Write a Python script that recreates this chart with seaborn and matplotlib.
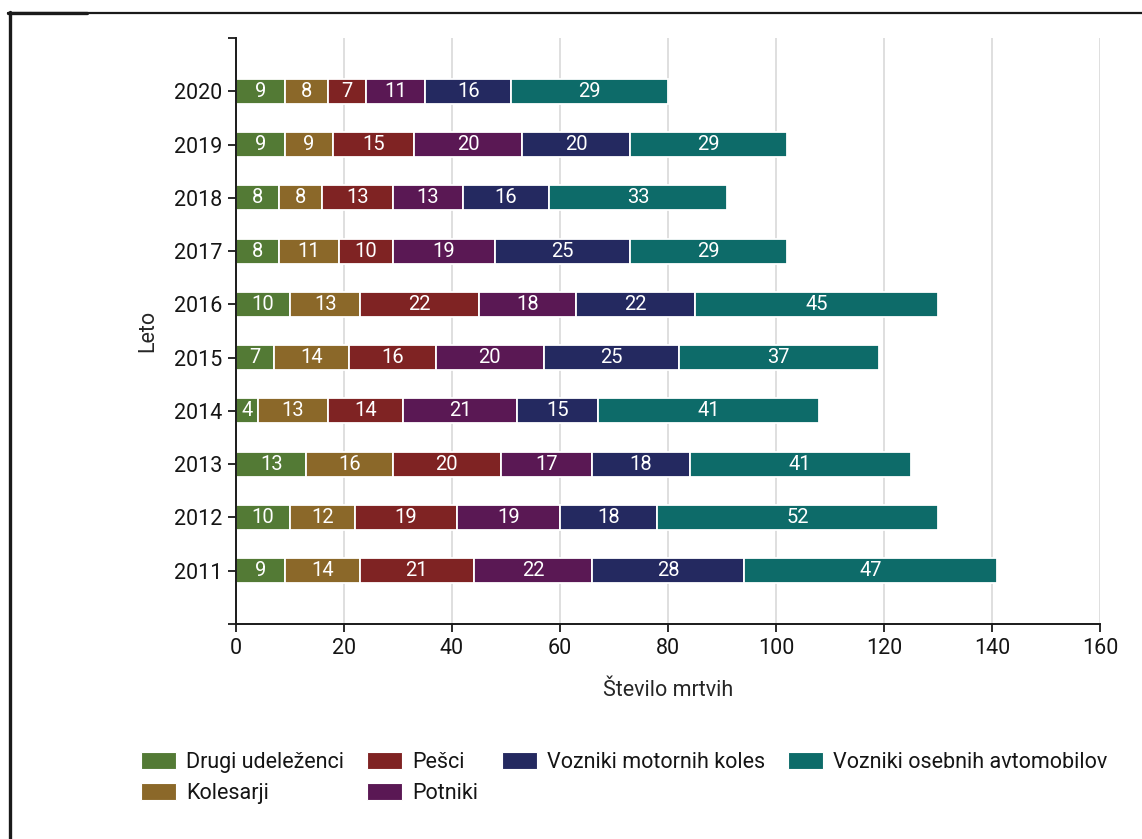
import numpy as np
import pandas as pd
import seaborn as sns
import matplotlib.pyplot as plt
from matplotlib.patches import Patch
from matplotlib.lines import Line2D

#### Data ####
years = ['2020', '2019', '2018', '2017', '2016', '2015', '2014', '2013', '2012', '2011']
groups = ['Drugi udeleženci', 'Kolesarji', 'Pešci', 'Potniki',
          'Vozniki motornih koles', 'Vozniki osebnih avtomobilov']
drugi = [9, 9, 8, 8, 10, 7, 4, 13, 10, 9]
kolesarji = [8, 9, 8, 11, 13, 14, 13, 16, 12, 14]
pesci = [7, 15, 13, 10, 22, 16, 14, 20, 19, 21]
potniki = [11, 20, 13, 19, 18, 20, 21, 17, 19, 22]
motoristi = [16, 20, 16, 25, 22, 25, 15, 18, 18, 28]
avtomobili = [29, 29, 33, 29, 45, 37, 41, 41, 52, 47]
colors = ['#537a35', '#8b6829', '#7f2323', '#5a1854', '#242960', '#0d6b69']

df = pd.DataFrame({'Leto': years})
for g, vals in zip(groups, [drugi, kolesarji, pesci, potniki, motoristi, avtomobili]):
    df[g] = vals
left = df[groups].cumsum(axis=1) - df[groups]  # start of each segment

#### Style ####
sns.set_theme(style='white')
plt.rcParams['font.family'] = ['Roboto', 'DejaVu Sans']
plt.rcParams['text.color'] = '#151515'
fs = 15.5

fig = plt.figure(figsize=(11.42, 8.39), dpi=100)
ax = fig.add_axes([0.2067, 0.2563, 0.7565, 0.6984])

#### Stacked bars ####
for g, c in zip(groups, colors):
    sns.barplot(x=df[g], y=df['Leto'], order=years, color=c, saturation=1,
                width=0.47, errorbar=None, edgecolor='white', linewidth=1.3,
                left=left[g].values, zorder=2, ax=ax)
    ax.bar_label(ax.containers[-1], labels=[str(v) for v in df[g]],
                 label_type='center', color='white', fontsize=14.5)

#### Axes ####
ax.set_xlim(0, 160)
ax.set_ylim(len(years), -1)
ax.set_xticks(np.arange(0, 161, 20))
ax.set_yticks([-1, len(years)], minor=True)
ax.grid(axis='x', color='#d9d9d9', linewidth=1.2, zorder=0)
ax.grid(axis='y', visible=False)
ax.set_axisbelow(True)
sns.despine(ax=ax, top=True, right=True)
for s in ['left', 'bottom']:
    ax.spines[s].set_color('#1a1a1a')
    ax.spines[s].set_linewidth(1.4)
ax.tick_params(axis='both', which='both', length=6, width=1.3, color='#1a1a1a',
               labelsize=fs, labelcolor='#151515', pad=4, left=True, bottom=True)
ax.set_xlabel('Število mrtvih', fontsize=fs, labelpad=15)
ax.set_ylabel('Leto', fontsize=fs, labelpad=11)

#### Legend ####
handles = [Patch(facecolor=c, edgecolor='white', linewidth=0.8) for c in colors]
fig.legend(handles, groups, loc='upper left', bbox_to_anchor=(0.1235, 0.1037),
           ncol=4, frameon=False, fontsize=fs, borderpad=0, borderaxespad=0,
           handlelength=1.63, handleheight=0.84, handletextpad=0.47,
           columnspacing=1.07, labelspacing=0.47)

#### Frame ####
fig.add_artist(Line2D([8 / 1142, 1], [1 - 12.5 / 839] * 2, color='#1a1a1a', lw=1.6))
fig.add_artist(Line2D([8 / 1142, 87 / 1142], [1 - 13 / 839] * 2, color='#1a1a1a', lw=2.4))
fig.add_artist(Line2D([10 / 1142] * 2, [0, 1 - 12 / 839], color='#1a1a1a', lw=2.4))

fig.savefig('out.png', dpi=100)
